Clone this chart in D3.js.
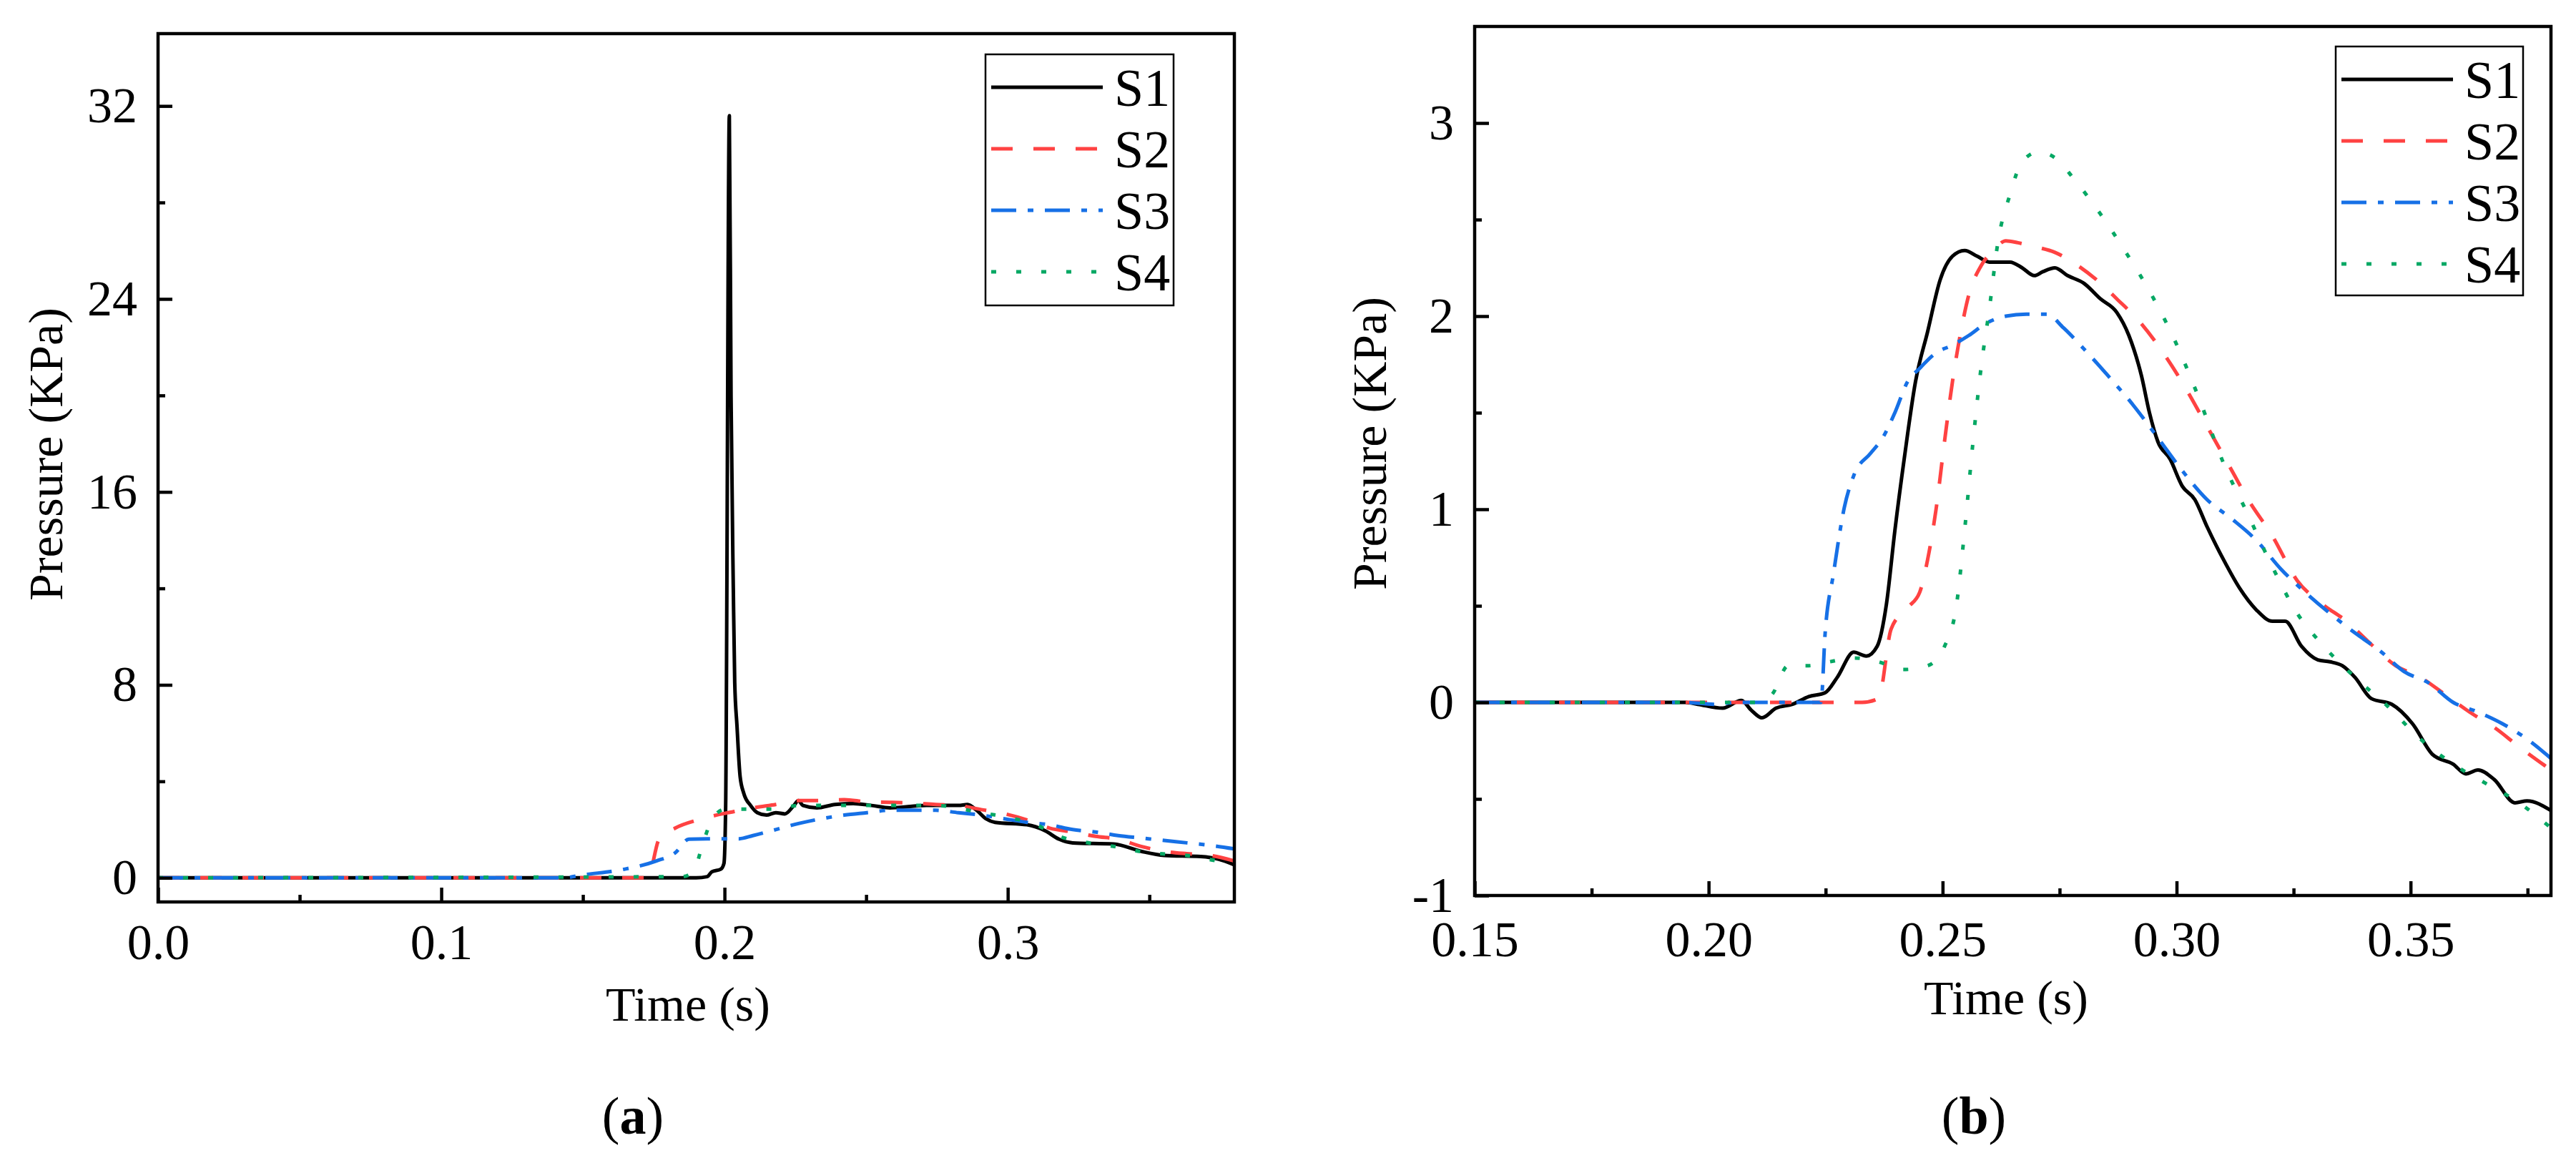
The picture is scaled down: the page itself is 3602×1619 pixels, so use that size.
<!DOCTYPE html>
<html><head><meta charset="utf-8">
<script src="https://cdn.jsdelivr.net/npm/d3@7"></script>
<style>
body{margin:0;background:#fff}
svg{display:block}
text{font-family:"Liberation Serif","Times New Roman",serif;fill:#000}
</style>
</head><body>
<svg id="chart" width="3602" height="1619"></svg>
<script>
// ---------------- DATA ----------------
const seriesNames = ["S1","S2","S3","S4"];

// Panel (a)
const aXTicks = [0, 0.1, 0.2, 0.3];
const aXTickLabels = ["0.0","0.1","0.2","0.3"];
const aXMinor = [0.05, 0.15, 0.25, 0.35];
const aYTicks = [0, 8, 16, 24, 32];
const aYTickLabels = ["0","8","16","24","32"];
const aYMinor = [4, 12, 20, 28];

const aS1t = [0,0.19,0.1939,0.1955,0.1987,0.1998,0.2004,0.2017,0.2023,0.2031,0.2036,0.2044,0.2055,0.2068,0.2092,0.2116,0.2148,0.2181,0.2213,0.2245,0.2261,0.2277,0.2326,0.239,0.2455,0.2519,0.2584,0.2713,0.2826,0.2858,0.289,0.2923,0.2955,0.3068,0.3132,0.3181,0.3229,0.3374,0.3471,0.3552,0.3681,0.3745,0.38];
const aS1p = [0,0,0.05,0.25,0.36,0.6,3.0,31.6,20,12,8.1,6.3,4.2,3.5,3.0,2.7,2.6,2.7,2.65,3.0,3.2,3.0,2.9,3.04,3.08,3.0,2.9,3.0,3.0,3.04,2.8,2.45,2.3,2.2,1.95,1.6,1.45,1.4,1.1,0.93,0.88,0.77,0.54];

const aS2t = [0,0.1729,0.1769,0.1826,0.1906,0.1971,0.2035,0.21,0.2181,0.2261,0.2342,0.2423,0.2503,0.2584,0.2665,0.2745,0.2826,0.2906,0.2971,0.3068,0.3148,0.3229,0.331,0.339,0.3471,0.3552,0.3632,0.3713,0.38];
const aS2p = [0,0,1.6,2.06,2.4,2.6,2.75,2.9,3.04,3.2,3.2,3.24,3.15,3.13,3.1,3.04,3.0,2.83,2.7,2.4,2.06,1.9,1.72,1.6,1.3,1.1,1.0,0.93,0.7];

const aS3t = [0,0.143,0.15,0.1648,0.176,0.1826,0.1874,0.1939,0.2052,0.21,0.2181,0.2261,0.2342,0.2423,0.2503,0.2584,0.2665,0.2745,0.2826,0.2906,0.2987,0.3068,0.3148,0.3229,0.331,0.339,0.3471,0.3552,0.3632,0.3713,0.38];
const aS3p = [0,0,0.12,0.36,0.7,1.04,1.6,1.62,1.62,1.75,2.0,2.25,2.45,2.6,2.7,2.8,2.8,2.8,2.7,2.6,2.45,2.3,2.2,2.0,1.9,1.75,1.65,1.55,1.45,1.35,1.2];

const aS4t = [0,0.185,0.189,0.1923,0.1955,0.2003,0.21,0.2181,0.2261,0.2423,0.2584,0.2745,0.2906,0.3003,0.31,0.3181,0.3261,0.339,0.3487,0.3632,0.3745,0.38];
const aS4p = [0,0.05,0.25,1.4,2.4,2.85,2.85,2.85,3.0,3.0,3.0,3.0,2.7,2.5,2.2,1.72,1.5,1.27,1.05,0.93,0.7,0.65];

// Panel (b)
const bXTicks = [0.15, 0.20, 0.25, 0.30, 0.35];
const bXTickLabels = ["0.15","0.20","0.25","0.30","0.35"];
const bXMinor = [0.175, 0.225, 0.275, 0.325, 0.375];
const bYTicks = [-1, 0, 1, 2, 3];
const bYTickLabels = ["-1","0","1","2","3"];
const bYMinor = [-0.5, 0.5, 1.5, 2.5];

const bS1t = [0.15,0.195,0.1977,0.203,0.207,0.2091,0.2114,0.2144,0.2179,0.2214,0.2249,0.2275,0.231,0.2337,0.236,0.238,0.2398,0.2419,0.2442,0.2468,0.2495,0.2521,0.2547,0.2574,0.26,0.2644,0.267,0.2696,0.2714,0.274,0.2767,0.2802,0.2837,0.2872,0.2898,0.2925,0.2942,0.296,0.2986,0.3012,0.3039,0.3065,0.31,0.3135,0.317,0.3205,0.3232,0.3267,0.3302,0.3328,0.3354,0.3381,0.3416,0.346,0.3504,0.3547,0.3591,0.3618,0.3644,0.3679,0.3723,0.3749,0.38];
const bS1p = [0,0,-0.01,-0.03,0.01,-0.04,-0.08,-0.03,-0.01,0.03,0.05,0.13,0.26,0.24,0.29,0.51,0.89,1.28,1.66,1.92,2.19,2.31,2.34,2.31,2.28,2.28,2.25,2.21,2.23,2.25,2.21,2.17,2.09,2.02,1.9,1.69,1.5,1.35,1.26,1.12,1.05,0.91,0.74,0.59,0.48,0.42,0.42,0.29,0.22,0.21,0.19,0.13,0.02,-0.01,-0.11,-0.27,-0.32,-0.37,-0.35,-0.4,-0.52,-0.51,-0.56];

const bS2t = [0.15,0.2328,0.2363,0.239,0.2425,0.2451,0.2468,0.2486,0.2504,0.2521,0.2539,0.2556,0.2582,0.2609,0.2635,0.2661,0.2696,0.274,0.2784,0.2828,0.2872,0.2925,0.2977,0.3021,0.3065,0.3109,0.3153,0.3205,0.3258,0.3311,0.3363,0.3416,0.3468,0.3521,0.3574,0.3626,0.3679,0.3732,0.38];
const bS2p = [0,0,0.02,0.38,0.49,0.57,0.74,1.0,1.35,1.66,1.92,2.11,2.26,2.34,2.39,2.38,2.36,2.33,2.27,2.19,2.09,1.96,1.79,1.62,1.43,1.24,1.05,0.86,0.63,0.51,0.42,0.30,0.19,0.13,0.04,-0.05,-0.13,-0.23,-0.35];

const bS3t = [0.15,0.195,0.2012,0.206,0.224,0.2249,0.2267,0.229,0.2311,0.2346,0.2372,0.2398,0.2425,0.2451,0.2486,0.2521,0.2556,0.2591,0.2635,0.2679,0.2723,0.2758,0.2802,0.2854,0.2907,0.296,0.3012,0.3065,0.3118,0.317,0.3223,0.3275,0.3328,0.3381,0.3433,0.3486,0.3539,0.3591,0.3644,0.3696,0.3749,0.38];
const bS3p = [0,0,-0.01,0,0,0.36,0.67,1.01,1.18,1.29,1.37,1.5,1.66,1.73,1.81,1.85,1.9,1.96,2.0,2.01,2.01,1.94,1.83,1.69,1.54,1.37,1.2,1.05,0.95,0.84,0.69,0.57,0.46,0.36,0.27,0.16,0.1,0.0,-0.05,-0.11,-0.19,-0.29];

const bS4t = [0.15,0.21,0.2135,0.217,0.2214,0.2258,0.2311,0.2363,0.2416,0.2468,0.2504,0.253,0.2547,0.2565,0.2582,0.26,0.2618,0.2644,0.267,0.2705,0.274,0.2784,0.2837,0.2889,0.2942,0.2995,0.3047,0.31,0.3153,0.3205,0.3258,0.3311,0.3381,0.3451,0.3521,0.3591,0.3661,0.3732,0.38];
const bS4p = [0,0,0.04,0.19,0.19,0.21,0.23,0.21,0.17,0.19,0.29,0.51,0.89,1.35,1.73,2.04,2.38,2.63,2.8,2.85,2.82,2.7,2.53,2.34,2.13,1.88,1.58,1.24,0.97,0.7,0.46,0.30,0.13,-0.02,-0.19,-0.32,-0.42,-0.52,-0.65];

// ---------------- STYLE / LAYOUT ----------------
const styles = [
  {color:"#000000", dash:null},
  {color:"#FF4242", dash:"30,29"},
  {color:"#1670E6", dash:"35,16,8,16"},
  {color:"#06A864", dash:"7,28"}
];
const FONT_TICK = 70, FONT_TITLE = 68, FONT_LEG = 74, FONT_PANEL = 74;

const panels = [
  {box:{l:221,r:1726,t:47,b:1261}, xDom:[0,0.38], yDom:[-1,35],
   xT:aXTicks, xL:aXTickLabels, xM:aXMinor, yT:aYTicks, yL:aYTickLabels, yM:aYMinor,
   data:[[aS1t,aS1p],[aS2t,aS2p],[aS3t,aS3p],[aS4t,aS4p]],
   leg:{l:1378,t:76,w:263,h:351}, xPad:30,
   xTitle:{x:962,y:1427}, yTitle:{x:87,y:635}, label:{x:885,y:1585,t:"a"}},
  {box:{l:2062,r:3567,t:37,b:1252}, xDom:[0.15,0.38], yDom:[-1,3.5],
   xT:bXTicks, xL:bXTickLabels, xM:bXMinor, yT:bYTicks, yL:bYTickLabels, yM:bYMinor,
   data:[[bS1t,bS1p],[bS2t,bS2p],[bS3t,bS3p],[bS4t,bS4p]],
   leg:{l:3266,t:65,w:262,h:348}, xPad:35,
   xTitle:{x:2805,y:1418}, yTitle:{x:1938,y:620}, label:{x:2760,y:1585,t:"b"}}
];

const svg = d3.select("#chart");
svg.append("rect").attr("width",3602).attr("height",1619).attr("fill","#fff");

panels.forEach((P, pi) => {
  const B = P.box;
  const x = d3.scaleLinear().domain(P.xDom).range([B.l, B.r]);
  const y = d3.scaleLinear().domain(P.yDom).range([B.b, B.t]);
  const g = svg.append("g");

  const clipId = "clip" + pi;
  g.append("clipPath").attr("id", clipId).append("rect")
    .attr("x", B.l).attr("y", B.t).attr("width", B.r - B.l).attr("height", B.b - B.t);

  // lines
  const line = d3.line().x(d => x(d[0])).y(d => y(d[1])).curve(d3.curveMonotoneX);
  const lg = g.append("g").attr("clip-path", `url(#${clipId})`);
  P.data.forEach((s, i) => {
    const pts = s[0].map((t, k) => [t, s[1][k]]);
    lg.append("path").datum(pts).attr("d", line)
      .attr("fill","none").attr("stroke", styles[i].color)
      .attr("stroke-width", 5).attr("stroke-linejoin","round")
      .attr("stroke-dasharray", styles[i].dash);
  });

  // axes (ticks inward)
  const xAx = g.append("g").attr("transform", `translate(0,${B.b})`)
    .call(d3.axisBottom(x).tickValues(P.xT).tickFormat((d,i)=>P.xL[i])
      .tickSizeInner(-20).tickSizeOuter(0).tickPadding(P.xPad));
  const xAxm = g.append("g").attr("transform", `translate(0,${B.b})`)
    .call(d3.axisBottom(x).tickValues(P.xM).tickFormat("").tickSizeInner(-10).tickSizeOuter(0));
  const yAx = g.append("g").attr("transform", `translate(${B.l},0)`)
    .call(d3.axisLeft(y).tickValues(P.yT).tickFormat((d,i)=>P.yL[i])
      .tickSizeInner(-20).tickSizeOuter(0).tickPadding(29));
  const yAxm = g.append("g").attr("transform", `translate(${B.l},0)`)
    .call(d3.axisLeft(y).tickValues(P.yM).tickFormat("").tickSizeInner(-10).tickSizeOuter(0));
  [xAx, xAxm, yAx, yAxm].forEach(a => {
    a.attr("font-family", '"Liberation Serif","Times New Roman",serif');
    a.select(".domain").remove();
    a.selectAll(".tick line").attr("stroke","#000").attr("stroke-width",4.5);
    a.selectAll("text").attr("font-size", FONT_TICK)
      .style("font-family",'"Liberation Serif","Times New Roman",serif').attr("fill","#000");
  });

  // frame
  g.append("rect").attr("x", B.l).attr("y", B.t)
    .attr("width", B.r - B.l).attr("height", B.b - B.t)
    .attr("fill","none").attr("stroke","#000").attr("stroke-width",4.5);

  // legend
  const L = P.leg;
  const leg = g.append("g");
  leg.append("rect").attr("x", L.l).attr("y", L.t).attr("width", L.w).attr("height", L.h)
    .attr("fill","#fff").attr("stroke","#000").attr("stroke-width",2.5);
  seriesNames.forEach((n, i) => {
    const yy = L.t + 46 + i * 86;
    leg.append("line").attr("x1", L.l + 8).attr("x2", L.l + 164)
      .attr("y1", yy).attr("y2", yy)
      .attr("stroke", styles[i].color).attr("stroke-width", 5)
      .attr("stroke-dasharray", styles[i].dash);
    leg.append("text").attr("x", L.l + 180).attr("y", yy)
      .attr("dy","0.35em").attr("font-size", FONT_LEG).text(n);
  });

  // titles
  g.append("text").attr("x", P.xTitle.x).attr("y", P.xTitle.y)
    .attr("text-anchor","middle").attr("font-size", FONT_TITLE).text("Time (s)");
  g.append("text").attr("transform", `translate(${P.yTitle.x},${P.yTitle.y}) rotate(-90)`)
    .attr("text-anchor","middle").attr("font-size", FONT_TITLE).text("Pressure (KPa)");

  // panel label
  const pl = g.append("text").attr("x", P.label.x).attr("y", P.label.y)
    .attr("text-anchor","middle").attr("font-size", FONT_PANEL);
  pl.append("tspan").text("(");
  pl.append("tspan").attr("font-weight","bold").text(P.label.t);
  pl.append("tspan").text(")");
});
</script>
</body></html>
